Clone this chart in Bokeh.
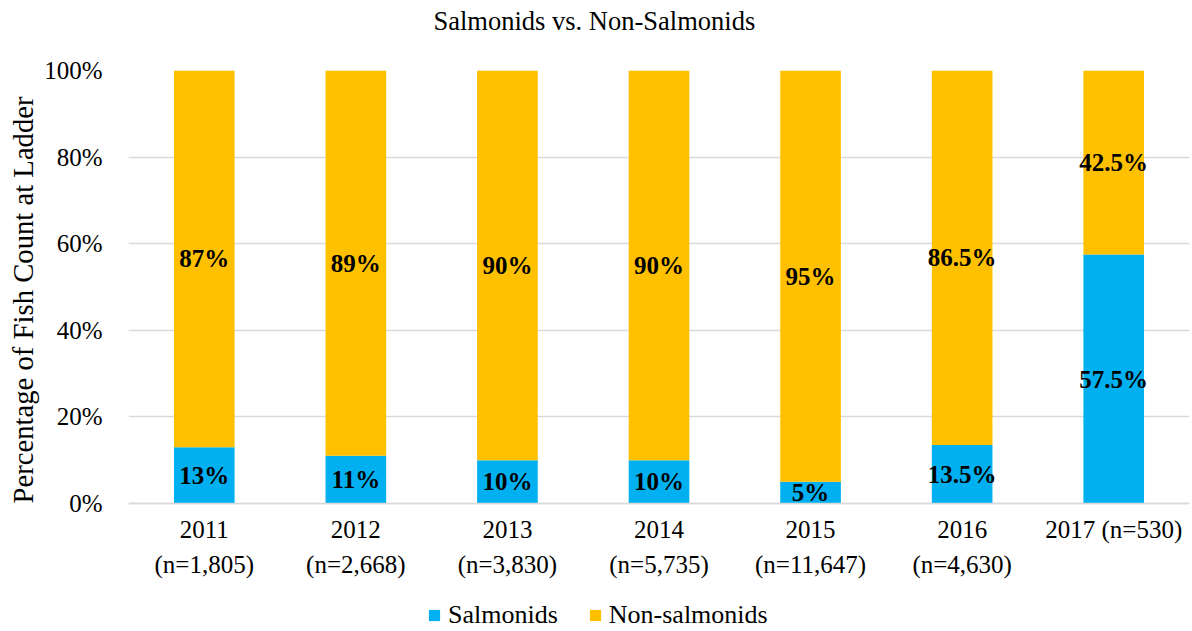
from bokeh.plotting import figure
from bokeh.models import (ColumnDataSource, Legend, LegendItem, FixedTicker,
                          PrintfTickFormatter, Range1d, LabelSet, Title)
from bokeh.core.properties import value
from bokeh.embed import file_html
from bokeh.resources import INLINE

# ---- data ----
categories = ["2011\n(n=1,805)", "2012\n(n=2,668)", "2013\n(n=3,830)",
              "2014\n(n=5,735)", "2015\n(n=11,647)", "2016\n(n=4,630)",
              "2017 (n=530)"]
salmonids = [13, 11, 10, 10, 5, 13.5, 57.5]
non_salmonids = [87, 89, 90, 90, 95, 86.5, 42.5]
salmonid_labels = ["13%", "11%", "10%", "10%", "5%", "13.5%", "57.5%"]
non_salmonid_labels = ["87%", "89%", "90%", "90%", "95%", "86.5%", "42.5%"]
y_ticks = [0, 20, 40, 60, 80, 100]

BLUE = "#00B0F0"
GOLD = "#FFC000"
SERIF = "Liberation Serif"

# layout: plot area 433 px tall for 0..100 %, plus 128 px below it for
# the category labels and the legend (kept inside the frame, unclipped)
PLOT_H, BELOW_H = 433, 128

source = ColumnDataSource(dict(
    cat=categories,
    salmonids=salmonids,
    non_salmonids=non_salmonids,
    s_mid=[s / 2 for s in salmonids],
    n_mid=[s + n / 2 for s, n in zip(salmonids, non_salmonids)],
    s_lab=salmonid_labels,
    n_lab=non_salmonid_labels,
))

p = figure(x_range=categories,
           y_range=Range1d(-100 * BELOW_H / PLOT_H, 100),
           frame_width=1061, frame_height=PLOT_H + BELOW_H,
           output_backend="svg", toolbar_location=None, title=None,
           min_border_left=128, min_border_right=3, min_border_top=70,
           min_border_bottom=0)

rs = p.vbar_stack(["salmonids", "non_salmonids"], x="cat", width=0.4,
                  color=[BLUE, GOLD], line_color=None, source=source)

for col, lab in (("s_mid", "s_lab"), ("n_mid", "n_lab")):
    p.add_layout(LabelSet(x="cat", y=col, text=lab, source=source,
                          text_align="center", text_baseline="middle",
                          text_font=value(SERIF), text_font_size="25px",
                          text_font_style="bold", text_color="black"))

# spacer between frame and title, then the title itself
p.add_layout(Title(text=" ", text_font_size="1px", standoff=32), "above")
p.add_layout(Title(text="Salmonids vs. Non-Salmonids", text_font=SERIF,
                   text_font_size="26.5px", text_font_style="normal",
                   text_color="black", align="left", offset=305,
                   standoff=0), "above")

# y axis
p.yaxis.ticker = FixedTicker(ticks=y_ticks)
p.yaxis.formatter = PrintfTickFormatter(format="%d%%")
p.yaxis.axis_line_color = None
p.yaxis.major_tick_line_color = None
p.yaxis.minor_tick_line_color = None
p.yaxis.major_tick_out = 0
p.yaxis.major_label_standoff = 26

# y axis title, starting level with 0 %
p.add_layout(Title(text="Percentage of Fish Count at Ladder", text_font=SERIF,
                   text_font_size="28.7px", text_font_style="normal",
                   text_color="black", align="left", offset=BELOW_H,
                   standoff=6), "left")

for ax in (p.xaxis, p.yaxis):
    ax.major_label_text_font = SERIF
    ax.major_label_text_font_size = "25px"
    ax.major_label_text_color = "black"

# x axis sits on the 0 % line
p.xaxis.fixed_location = 0
p.xaxis.axis_line_color = "#D9D9D9"
p.xaxis.axis_line_width = 1.5
p.xaxis.major_tick_line_color = None
p.xaxis.minor_tick_line_color = None
p.xaxis.major_label_standoff = 6
p.xaxis.major_label_text_line_height = 1.3

p.xgrid.grid_line_color = None
p.ygrid.grid_line_color = "#D9D9D9"
p.ygrid.grid_line_width = 1.5
p.outline_line_color = None

legend = Legend(items=[LegendItem(label="Salmonids", renderers=[rs[0]]),
                       LegendItem(label="Non-salmonids", renderers=[rs[1]])],
                orientation="horizontal", location=(299, 1),
                label_text_font=SERIF, label_text_font_size="26px",
                label_text_color="black", label_height=30,
                glyph_width=14, glyph_height=14, spacing=30,
                label_standoff=7, border_line_color=None,
                background_fill_alpha=0, padding=0, margin=0)
p.add_layout(legend)

open("out.html", "w").write(file_html(p, INLINE))
